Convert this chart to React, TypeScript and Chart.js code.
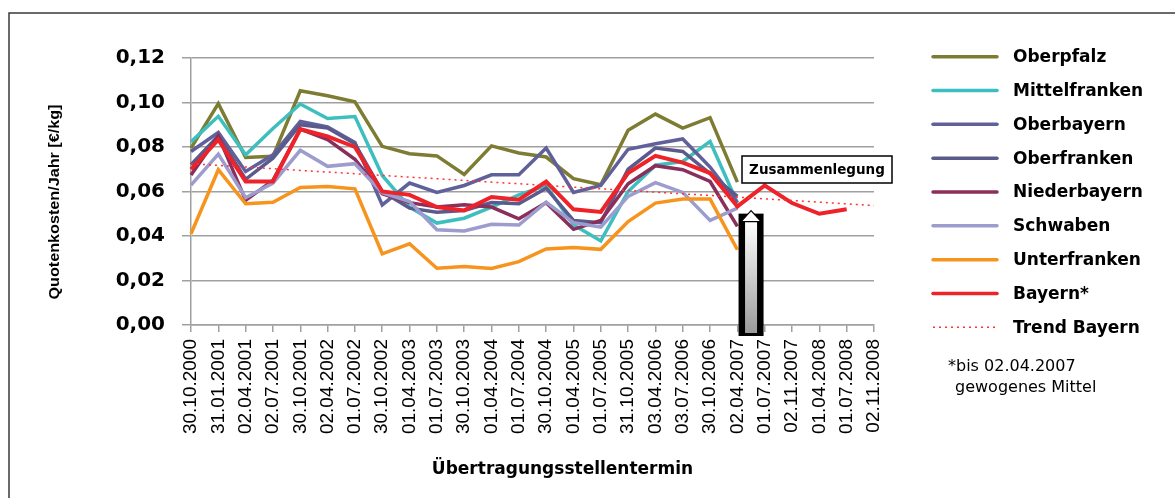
import React, { useEffect, useRef } from 'react';
import { Chart, registerables } from 'chart.js';

Chart.register(...registerables);

const categories = [
  '30.10.2000', '31.01.2001', '02.04.2001', '02.07.2001', '30.10.2001', '02.04.2002',
  '01.07.2002', '30.10.2002', '01.04.2003', '01.07.2003', '30.10.2003', '01.04.2004',
  '01.07.2004', '30.10.2004', '01.04.2005', '01.07.2005', '31.10.2005', '03.04.2006',
  '03.07.2006', '30.10.2006', '02.04.2007', '01.07.2007', '02.11.2007', '01.04.2008',
  '01.07.2008', '02.11.2008',
];

const oberpfalz = [0.0795, 0.0995, 0.0753, 0.0758, 0.1053, 0.1030, 0.1003, 0.0803, 0.0770, 0.0760, 0.0677, 0.0805, 0.0773, 0.0755, 0.0658, 0.0630, 0.0875, 0.0948, 0.0885, 0.0932, 0.0642];
const mittelfranken = [0.0823, 0.0938, 0.0765, 0.0883, 0.0993, 0.0928, 0.0937, 0.0672, 0.0530, 0.0458, 0.0480, 0.0530, 0.0585, 0.0627, 0.0450, 0.0378, 0.0600, 0.0718, 0.0735, 0.0825, 0.0548];
const oberbayern = [0.0780, 0.0865, 0.0690, 0.0765, 0.0915, 0.0890, 0.0820, 0.0540, 0.0638, 0.0596, 0.0627, 0.0675, 0.0675, 0.0795, 0.0596, 0.0627, 0.0790, 0.0815, 0.0836, 0.0710, 0.0550];
const oberfranken = [0.0720, 0.0850, 0.0655, 0.0750, 0.0900, 0.0885, 0.0815, 0.0600, 0.0525, 0.0507, 0.0515, 0.0550, 0.0545, 0.0615, 0.0470, 0.0460, 0.0700, 0.0795, 0.0780, 0.0680, 0.0578];
const niederbayern = [0.0674, 0.0850, 0.0560, 0.0650, 0.0880, 0.0833, 0.0745, 0.0590, 0.0550, 0.0530, 0.0540, 0.0530, 0.0477, 0.0550, 0.0430, 0.0470, 0.0635, 0.0716, 0.0698, 0.0645, 0.0443];
const schwaben = [0.0629, 0.0768, 0.0572, 0.0638, 0.0785, 0.0713, 0.0725, 0.0595, 0.0555, 0.0428, 0.0423, 0.0453, 0.0449, 0.0552, 0.0460, 0.0440, 0.0578, 0.0640, 0.0596, 0.0470, 0.0525];
const unterfranken = [0.0410, 0.0698, 0.0545, 0.0552, 0.0618, 0.0623, 0.0612, 0.0320, 0.0365, 0.0255, 0.0263, 0.0254, 0.0285, 0.0342, 0.0348, 0.0340, 0.0465, 0.0548, 0.0566, 0.0566, 0.0338];
const bayern = [0.0700, 0.0833, 0.0645, 0.0645, 0.0880, 0.0848, 0.0800, 0.0600, 0.0585, 0.0530, 0.0515, 0.0575, 0.0563, 0.0645, 0.0520, 0.0508, 0.0683, 0.0760, 0.0730, 0.0683, 0.0533, 0.0627, 0.0548, 0.0500, 0.0520];
const trendBayern = [0.0725, null, null, null, null, null, null, null, null, null, null, null, null, null, null, null, null, null, null, null, null, null, null, null, null, 0.0537];

const yMin = 0;
const yMax = 0.12;
const yStep = 0.02;

const seriesNames = ['Oberpfalz', 'Mittelfranken', 'Oberbayern', 'Oberfranken', 'Niederbayern', 'Schwaben', 'Unterfranken', 'Bayern*', 'Trend Bayern'];
const seriesColors = ['#7d7c32', '#3ebfbf', '#60609a', '#5a5a8c', '#8a2f5c', '#9c9ccf', '#f7941d', '#ee2229', '#ff3333'];
const footnote = ['*bis 02.04.2007', 'gewogenes Mittel'];
const annotationText = 'Zusammenlegung';
const xTitle = 'Übertragungsstellentermin';
const yTitle = 'Quotenkosten/Jahr [€/kg]';

const overlay = {
  id: 'overlay',
  afterDraw(chart: any) {
    const ctx = chart.ctx as CanvasRenderingContext2D;
    const xs = chart.scales.x;
    const ys = chart.scales.y;
    const area = chart.chartArea;
    ctx.save();

    // frame
    ctx.strokeStyle = '#3a3a3a';
    ctx.lineWidth = 1.5;
    ctx.beginPath();
    ctx.moveTo(9, 498);
    ctx.lineTo(9, 13);
    ctx.lineTo(1175, 13);
    ctx.stroke();

    // y title
    ctx.save();
    ctx.translate(55, 202);
    ctx.rotate(-Math.PI / 2);
    ctx.font = 'bold 14px "Liberation Sans Narrow", "Liberation Sans", Arial';
    const yw = ctx.measureText(yTitle).width;
    ctx.scale(195 / yw, 1);
    ctx.fillStyle = '#000';
    ctx.textAlign = 'center';
    ctx.textBaseline = 'middle';
    ctx.fillText(yTitle, 0, 0);
    ctx.restore();

    // x title
    ctx.font = 'bold 17px "DejaVu Sans"';
    ctx.fillStyle = '#000';
    ctx.textAlign = 'center';
    ctx.textBaseline = 'middle';
    ctx.fillText(xTitle, (area.left + area.right) / 2 + 30, 470);

    // legend
    chart.data.datasets.forEach((ds: any, i: number) => {
      const cy = 56.7 + i * 33.83;
      ctx.save();
      ctx.strokeStyle = ds.borderColor;
      ctx.lineWidth = ds.borderDash && ds.borderDash.length ? 1.5 : 3.5;
      ctx.setLineDash(ds.borderDash || []);
      ctx.lineCap = ds.borderDash && ds.borderDash.length ? 'butt' : 'round';
      ctx.beginPath();
      ctx.moveTo(933, cy);
      ctx.lineTo(997, cy);
      ctx.stroke();
      ctx.restore();
      ctx.font = 'bold 17px "DejaVu Sans"';
      ctx.fillStyle = '#000';
      ctx.textAlign = 'left';
      ctx.textBaseline = 'middle';
      ctx.fillText(ds.label, 1013, cy + 1);
    });

    // footnote
    ctx.font = '16px "DejaVu Sans"';
    ctx.fillStyle = '#000';
    ctx.textAlign = 'left';
    ctx.fillText(footnote[0], 948, 367);
    ctx.fillText(footnote[1], 955, 388);

    // annotation box
    ctx.fillStyle = '#fff';
    ctx.fillRect(742, 156, 150, 27);
    ctx.strokeStyle = '#000';
    ctx.lineWidth = 1.5;
    ctx.strokeRect(742, 156, 150, 27);
    ctx.font = 'bold 13.5px "DejaVu Sans"';
    ctx.fillStyle = '#000';
    ctx.textAlign = 'center';
    ctx.fillText(annotationText, 817, 170);

    // arrow
    const cx = xs.getPixelForValue(20.5);
    const top = ys.getPixelForValue(0.0514);
    const bottom = area.bottom + 11;
    ctx.fillStyle = '#000';
    ctx.fillRect(cx - 12.5, top + 3, 25, bottom - top - 3);
    const grad = ctx.createLinearGradient(0, top + 11, 0, bottom - 3);
    grad.addColorStop(0, '#ffffff');
    grad.addColorStop(1, '#9a9a9a');
    ctx.fillStyle = grad;
    ctx.fillRect(cx - 6, top + 11, 12, bottom - 3 - (top + 11));
    ctx.beginPath();
    ctx.moveTo(cx, top);
    ctx.lineTo(cx + 10, top + 11);
    ctx.lineTo(cx - 10, top + 11);
    ctx.closePath();
    ctx.fillStyle = '#ffffff';
    ctx.fill();
    ctx.strokeStyle = '#000';
    ctx.lineWidth = 1.2;
    ctx.stroke();

    ctx.restore();
  },
};

export default function App() {
  const ref = useRef<HTMLCanvasElement>(null);
  useEffect(() => {
    const seriesData = [oberpfalz, mittelfranken, oberbayern, oberfranken, niederbayern, schwaben, unterfranken, bayern, trendBayern];
    const orders = [8, 7, 6, 5, 4, 3, 2, 1, 0];
    const datasets = seriesData.map((d, i) => {
      const isTrend = i === 8;
      return {
        label: seriesNames[i],
        data: d,
        borderColor: seriesColors[i],
        backgroundColor: seriesColors[i],
        borderWidth: isTrend ? 1.5 : i === 7 ? 4 : 3.5,
        borderDash: isTrend ? [2, 4] : [],
        pointRadius: 0,
        spanGaps: isTrend,
        tension: 0,
        fill: false,
        order: orders[i],
      };
    });
    const chart = new Chart(ref.current as HTMLCanvasElement, {
      type: 'line',
      data: { labels: categories, datasets },
      options: {
        animation: false,
        responsive: false,
        layout: { padding: { top: 58, right: 301, left: 0, bottom: 0 } },
        plugins: { legend: { display: false }, tooltip: { enabled: false } },
        scales: {
          x: {
            type: 'category',
            offset: false,
            grid: { display: true, drawOnChartArea: false, drawTicks: true, tickLength: 7, color: '#a0a0a0', lineWidth: 1.5 },
            border: { display: true, color: '#a0a0a0', width: 1.5 },
            ticks: {
              autoSkip: false,
              maxRotation: 90,
              minRotation: 90,
              padding: 7,
              color: '#000',
              font: { family: '"Liberation Sans", Arial', size: 19 },
            },
            afterFit: (s: any) => { s.height = 173; },
          },
          y: {
            min: yMin,
            max: yMax,
            ticks: {
              stepSize: yStep,
              padding: 17,
              color: '#000',
              font: { family: '"DejaVu Sans"', size: 20, weight: 'bold' },
              callback: (v: any) => Number(v).toFixed(2).replace('.', ','),
            },
            grid: { color: '#a0a0a0', lineWidth: 1.5, tickLength: 9 },
            border: { display: true, color: '#a0a0a0', width: 1.5 },
            afterFit: (s: any) => { s.width = 191; },
          },
        },
      } as any,
      plugins: [overlay],
    });
    return () => chart.destroy();
  }, []);
  return (
    <div style={{ position: 'absolute', left: 0, top: 0, width: 1175, height: 498, background: '#fff' }}>
      <canvas ref={ref} width={1175} height={498} style={{ display: 'block', width: 1175, height: 498 }} />
    </div>
  );
}
